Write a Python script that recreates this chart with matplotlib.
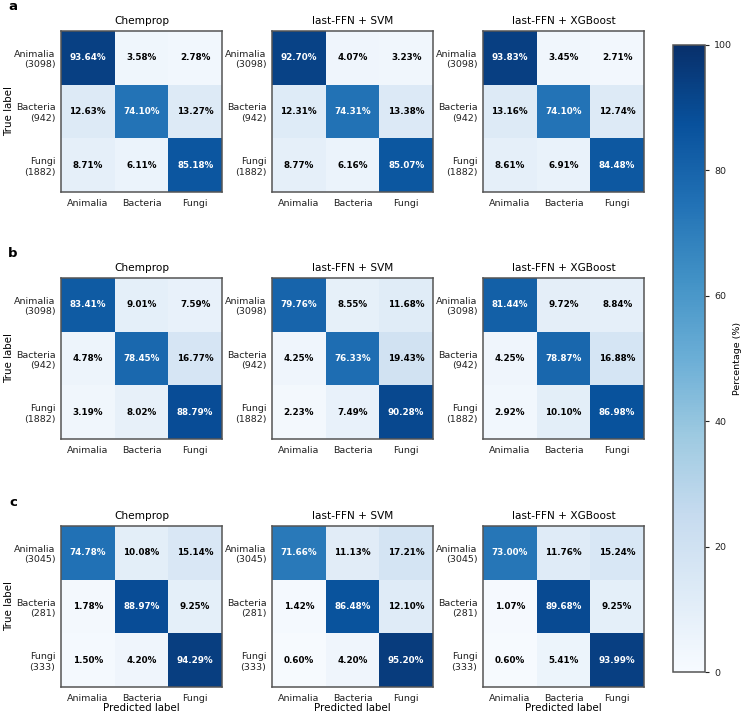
import numpy as np
import matplotlib
matplotlib.use("Agg")
import matplotlib.pyplot as plt

# ── data ──────────────────────────────────────────────────────────────────────
classes = ["Animalia", "Bacteria", "Fungi"]
models = ["Chemprop", "last-FFN + SVM", "last-FFN + XGBoost"]
panel_letters = ["a", "b", "c"]

counts_a = [3098, 942, 1882]
counts_b = [3098, 942, 1882]
counts_c = [3045, 281, 333]

a_chemprop = [[93.64, 3.58, 2.78], [12.63, 74.10, 13.27], [8.71, 6.11, 85.18]]
a_svm = [[92.70, 4.07, 3.23], [12.31, 74.31, 13.38], [8.77, 6.16, 85.07]]
a_xgb = [[93.83, 3.45, 2.71], [13.16, 74.10, 12.74], [8.61, 6.91, 84.48]]

b_chemprop = [[83.41, 9.01, 7.59], [4.78, 78.45, 16.77], [3.19, 8.02, 88.79]]
b_svm = [[79.76, 8.55, 11.68], [4.25, 76.33, 19.43], [2.23, 7.49, 90.28]]
b_xgb = [[81.44, 9.72, 8.84], [4.25, 78.87, 16.88], [2.92, 10.10, 86.98]]

c_chemprop = [[74.78, 10.08, 15.14], [1.78, 88.97, 9.25], [1.50, 4.20, 94.29]]
c_svm = [[71.66, 11.13, 17.21], [1.42, 86.48, 12.10], [0.60, 4.20, 95.20]]
c_xgb = [[73.00, 11.76, 15.24], [1.07, 89.68, 9.25], [0.60, 5.41, 93.99]]

rows = [
    (counts_a, [a_chemprop, a_svm, a_xgb]),
    (counts_b, [b_chemprop, b_svm, b_xgb]),
    (counts_c, [c_chemprop, c_svm, c_xgb]),
]

# ── layout (pixels) ───────────────────────────────────────────────────────────
W, H = 745, 717
col_left = [61, 272, 483]
row_top = [31, 278, 526]
size = 161
SPINE = "#555555"

fig = plt.figure(figsize=(W / 100, H / 100), dpi=100)

im = None
for r, (counts, mats) in enumerate(rows):
    ylabels = [f"{c}\n({n})" for c, n in zip(classes, counts)]
    for c, (name, mat) in enumerate(zip(models, mats)):
        ax = fig.add_axes([col_left[c] / W, 1 - (row_top[r] + size) / H,
                           size / W, size / H])
        m = np.array(mat)
        im = ax.imshow(m, cmap="Blues", vmin=0, vmax=100, aspect="auto")
        for i in range(3):
            for j in range(3):
                v = m[i, j]
                ax.text(j, i, f"{v:.2f}%", ha="center", va="center",
                        fontsize=6.3, fontweight="bold",
                        color="white" if v > 50 else "black")
        ax.set_xticks(range(3))
        ax.set_xticklabels(classes, fontsize=6.8)
        ax.set_yticks(range(3))
        ax.set_yticklabels(ylabels, fontsize=6.8)
        ax.tick_params(axis="y", length=0, pad=4, colors="#222222")
        ax.tick_params(axis="x", length=0, pad=5, colors="#222222")
        ax.set_title(name, fontsize=7.6, pad=5)
        for sp in ax.spines.values():
            sp.set_color(SPINE)
            sp.set_linewidth(1.1)
        if c == 0:
            ax.set_ylabel("True label", fontsize=7.4)
            ax.yaxis.set_label_coords(-47 / size, 0.5)
        if r == 2:
            ax.set_xlabel("Predicted label", fontsize=7.4, labelpad=0)
    fig.text(13 / W, 1 - (row_top[r] - 24) / H, panel_letters[r],
             fontsize=9.5, fontweight="bold", ha="center", va="center")

# colorbar
cax = fig.add_axes([673 / W, 1 - 672 / H, 32 / W, (672 - 45) / H])
cb = fig.colorbar(im, cax=cax)
cb.set_ticks([0, 20, 40, 60, 80, 100])
cb.ax.tick_params(labelsize=6.8, length=3, colors="#222222")
cb.outline.set_edgecolor(SPINE)
cb.outline.set_linewidth(1.1)
cb.set_label("Percentage (%)", fontsize=6.8, labelpad=1)

fig.savefig("out.png", dpi=100)
